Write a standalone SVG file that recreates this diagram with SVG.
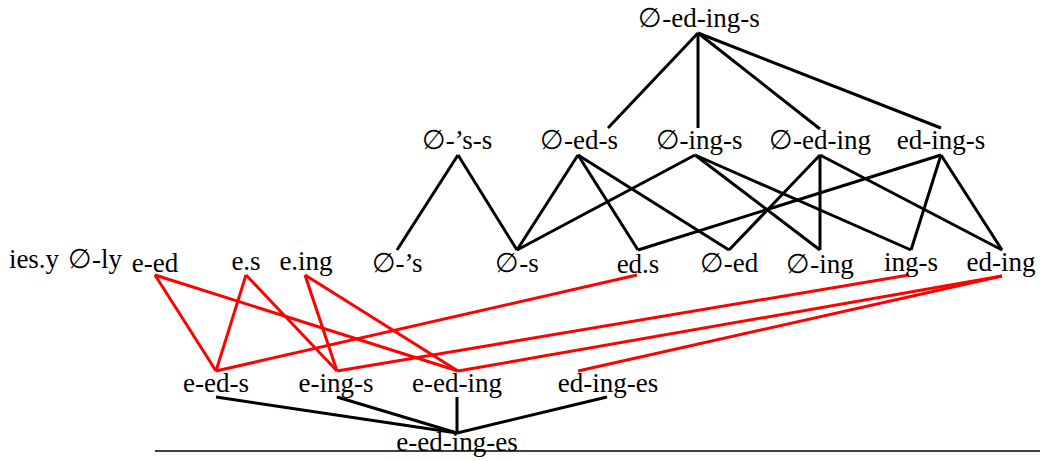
<svg xmlns="http://www.w3.org/2000/svg" width="1040" height="461" viewBox="0 0 1040 461">
  <style>
    text { font-family: "Liberation Serif", "DejaVu Serif", serif; font-size: 27px; fill: #000; text-anchor: middle; }
    .blk { stroke: #000; stroke-width: 3; fill: none; stroke-linecap: butt; }
    .red { stroke: #ff0000; stroke-width: 3; fill: none; stroke-linecap: butt; }
  </style>
  <rect x="0" y="0" width="1040" height="461" fill="#fff"/>

  <g id="connectors">
    <!-- top node to second row -->
    <line class="blk" x1="698" y1="33" x2="608" y2="128"/>
    <line class="blk" x1="698" y1="33" x2="698" y2="128"/>
    <line class="blk" x1="698" y1="33" x2="820" y2="129"/>
    <line class="blk" x1="698" y1="33" x2="941" y2="128"/>
    <!-- second row to third row -->
    <line class="blk" x1="458" y1="155" x2="397" y2="250"/>
    <line class="blk" x1="458" y1="155" x2="517" y2="250"/>
    <line class="blk" x1="578" y1="155" x2="517" y2="250"/>
    <line class="blk" x1="578" y1="155" x2="638" y2="250"/>
    <line class="blk" x1="578" y1="155" x2="729" y2="250"/>
    <line class="blk" x1="695" y1="155" x2="517" y2="250"/>
    <line class="blk" x1="695" y1="155" x2="820" y2="250"/>
    <line class="blk" x1="695" y1="155" x2="911" y2="250"/>
    <line class="blk" x1="820" y1="155" x2="729" y2="250"/>
    <line class="blk" x1="820" y1="155" x2="820" y2="250"/>
    <line class="blk" x1="820" y1="155" x2="1002" y2="250"/>
    <line class="blk" x1="941" y1="155" x2="638" y2="250"/>
    <line class="blk" x1="941" y1="155" x2="911" y2="250"/>
    <line class="blk" x1="941" y1="155" x2="1002" y2="250"/>
    <!-- red links from third row to fourth row -->
    <line class="red" x1="155" y1="275" x2="216" y2="371"/>
    <line class="red" x1="155" y1="275" x2="458" y2="371"/>
    <line class="red" x1="246" y1="275" x2="216" y2="371"/>
    <line class="red" x1="246" y1="275" x2="337" y2="371"/>
    <line class="red" x1="305" y1="275" x2="337" y2="371"/>
    <line class="red" x1="305" y1="275" x2="458" y2="371"/>
    <line class="red" x1="637" y1="275" x2="216" y2="371"/>
    <line class="red" x1="909" y1="275" x2="337" y2="371"/>
    <line class="red" x1="1002" y1="276" x2="458" y2="371"/>
    <line class="red" x1="1002" y1="276" x2="578" y2="371"/>
    <!-- fourth row to bottom node -->
    <line class="blk" x1="216" y1="397" x2="457" y2="433"/>
    <line class="blk" x1="337" y1="397" x2="457" y2="433"/>
    <line class="blk" x1="457" y1="397" x2="457" y2="433"/>
    <line class="blk" x1="607" y1="397" x2="457" y2="433"/>
    <!-- base rule -->
    <line x1="155" y1="451" x2="1040" y2="451" stroke="#000" stroke-width="1.3"/>
  </g>

  <g id="n-top"><text x="699" y="27">∅-ed-ing-s</text></g>

  <g id="n-0-s-s"><text x="457" y="149">∅-’s-s</text></g>
  <g id="n-0-ed-s"><text x="579" y="149">∅-ed-s</text></g>
  <g id="n-0-ing-s"><text x="699" y="149">∅-ing-s</text></g>
  <g id="n-0-ed-ing"><text x="820" y="149">∅-ed-ing</text></g>
  <g id="n-ed-ing-s"><text x="941" y="149">ed-ing-s</text></g>

  <g id="n-ies-y"><text x="34" y="268">ies.y</text></g>
  <g id="n-0-ly"><text x="95" y="268">∅-ly</text></g>
  <g id="n-e-ed"><text x="155" y="272">e-ed</text></g>
  <g id="n-e-s"><text x="246" y="270">e.s</text></g>
  <g id="n-e-ing"><text x="306" y="270">e.ing</text></g>
  <g id="n-0-s"><text x="397" y="272">∅-’s</text></g>
  <g id="n-0-plain-s"><text x="517" y="272">∅-s</text></g>
  <g id="n-ed-s"><text x="638" y="273">ed.s</text></g>
  <g id="n-0-ed"><text x="729" y="272">∅-ed</text></g>
  <g id="n-0-ing"><text x="820" y="273">∅-ing</text></g>
  <g id="n-ing-s"><text x="911" y="271">ing-s</text></g>
  <g id="n-ed-ing"><text x="1001" y="271">ed-ing</text></g>

  <g id="n-e-ed-s"><text x="216" y="392">e-ed-s</text></g>
  <g id="n-e-ing-s"><text x="336" y="392">e-ing-s</text></g>
  <g id="n-e-ed-ing"><text x="457" y="392">e-ed-ing</text></g>
  <g id="n-ed-ing-es"><text x="608" y="392">ed-ing-es</text></g>

  <g id="n-bottom"><text x="457" y="451">e-ed-ing-es</text></g>
</svg>
